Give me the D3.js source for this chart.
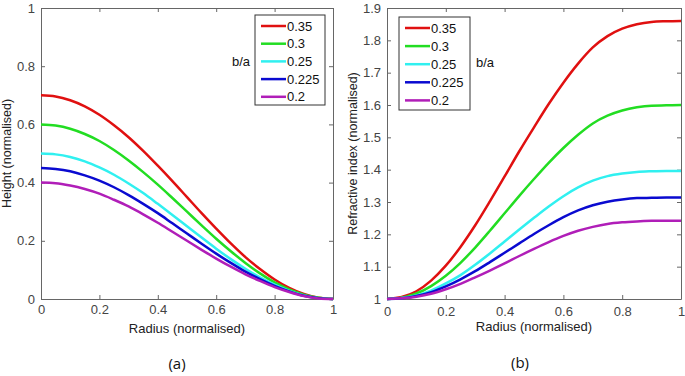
<!DOCTYPE html>
<html>
<head>
<meta charset="utf-8">
<script src="https://cdn.jsdelivr.net/npm/d3@7"></script>
<style>
  body { margin: 0; background: #fff; }
  svg { display: block; font-family: "Liberation Sans", Arial, sans-serif; }
</style>
</head>
<body>
<div id="chart"></div>
<script>
// x values (normalised radius)
const radius = [0, 0.05, 0.1, 0.15, 0.2, 0.25, 0.3, 0.35, 0.4, 0.45, 0.5,
    0.55, 0.6, 0.65, 0.7, 0.75, 0.8, 0.85, 0.9, 0.95, 1.0];

// legend labels (b/a)
const ratios = ["0.35", "0.3", "0.25", "0.225", "0.2"];
const colors = ["#e01010", "#22dd22", "#30f0f0", "#0a0ad0", "#b01eb8"];

// (a) height values
const height035 = [0.700, 0.696, 0.683, 0.662, 0.633, 0.597, 0.556, 0.509, 0.458, 0.405, 0.350,
    0.295, 0.242, 0.191, 0.144, 0.103, 0.067, 0.038, 0.017, 0.004, 0];
const height030 = [0.600, 0.596, 0.585, 0.567, 0.543, 0.512, 0.476, 0.436, 0.393, 0.347, 0.300,
    0.253, 0.207, 0.164, 0.124, 0.088, 0.057, 0.033, 0.015, 0.004, 0];
const height025 = [0.500, 0.497, 0.488, 0.473, 0.452, 0.427, 0.397, 0.364, 0.327, 0.289, 0.250,
    0.211, 0.173, 0.137, 0.104, 0.074, 0.049, 0.028, 0.012, 0.003, 0];
const height0225 = [0.450, 0.447, 0.439, 0.425, 0.407, 0.384, 0.357, 0.327, 0.295, 0.260, 0.225,
    0.190, 0.156, 0.124, 0.094, 0.068, 0.045, 0.026, 0.011, 0.003, 0];
const height020 = [0.400, 0.398, 0.390, 0.378, 0.362, 0.341, 0.318, 0.291, 0.262, 0.231, 0.200,
    0.169, 0.139, 0.111, 0.085, 0.062, 0.041, 0.024, 0.010, 0.002, 0];

// (b) refractive index values
const index035 = [1.000, 1.006, 1.024, 1.057, 1.103, 1.161, 1.228, 1.302, 1.379, 1.457, 1.531,
    1.603, 1.669, 1.728, 1.778, 1.813, 1.836, 1.850, 1.857, 1.859, 1.860];
const index030 = [1.000, 1.004, 1.017, 1.040, 1.072, 1.112, 1.159, 1.211, 1.265, 1.319, 1.371,
    1.421, 1.467, 1.508, 1.543, 1.567, 1.583, 1.593, 1.598, 1.599, 1.600];
const index025 = [1.000, 1.003, 1.011, 1.026, 1.048, 1.074, 1.106, 1.141, 1.178, 1.215, 1.251,
    1.286, 1.318, 1.345, 1.366, 1.380, 1.388, 1.393, 1.395, 1.396, 1.396];
const index0225 = [1.000, 1.002, 1.009, 1.021, 1.039, 1.061, 1.086, 1.114, 1.143, 1.172, 1.201,
    1.228, 1.253, 1.274, 1.290, 1.301, 1.308, 1.312, 1.313, 1.314, 1.314];
const index020 = [1.000, 1.002, 1.007, 1.016, 1.030, 1.047, 1.067, 1.088, 1.110, 1.133, 1.155,
    1.176, 1.195, 1.211, 1.223, 1.232, 1.237, 1.240, 1.242, 1.242, 1.242];

// tick values
const xTicks = [0, 0.2, 0.4, 0.6, 0.8, 1];
const heightTicks = [0, 0.2, 0.4, 0.6, 0.8, 1];
const indexTicks = [1, 1.1, 1.2, 1.3, 1.4, 1.5, 1.6, 1.7, 1.8, 1.9];

const svg = d3.select("#chart")
    .append("svg")
    .attr("width", 685)
    .attr("height", 376);

// draw one MATLAB style panel
function drawPanel(opt) {
    const x = d3.scaleLinear().domain([0, 1]).range([opt.left, opt.right]);
    const y = d3.scaleLinear().domain(opt.yDomain).range([opt.bottom, opt.top]);

    const g = svg.append("g");

    // box with inward ticks
    const fmt = d => d3.format("~g")(d);
    g.append("g")
        .attr("transform", `translate(0,${opt.bottom})`)
        .call(d3.axisBottom(x).tickValues(xTicks).tickSize(-4).tickSizeOuter(0).tickPadding(opt.xPad).tickFormat(fmt));
    g.append("g")
        .attr("transform", `translate(0,${opt.top})`)
        .call(d3.axisTop(x).tickValues(xTicks).tickSize(-4).tickSizeOuter(0).tickFormat(""));
    g.append("g")
        .attr("transform", `translate(${opt.left},0)`)
        .call(d3.axisLeft(y).tickValues(opt.yTicks).tickSize(-4).tickSizeOuter(0).tickPadding(6).tickFormat(fmt));
    g.append("g")
        .attr("transform", `translate(${opt.right},0)`)
        .call(d3.axisRight(y).tickValues(opt.yTicks).tickSize(-4).tickSizeOuter(0).tickFormat(""));

    g.selectAll(".domain, .tick line").attr("stroke", "#666").attr("stroke-width", 1);
    g.selectAll(".tick text").attr("fill", "#444").attr("font-size", 13)
        .attr("font-family", "Liberation Sans, Arial, sans-serif");

    // curves
    const line = d3.line()
        .x((d, i) => x(radius[i]))
        .y(d => y(d))
        .curve(d3.curveMonotoneX);

    g.selectAll(".curve")
        .data(opt.series)
        .enter().append("path")
        .attr("d", d => line(d))
        .attr("fill", "none")
        .attr("stroke", (d, i) => colors[i])
        .attr("stroke-width", 2.5);

    // axis labels
    g.append("text")
        .attr("x", (opt.left + opt.right) / 2)
        .attr("y", opt.xLabelY)
        .attr("text-anchor", "middle")
        .attr("font-size", 13)
        .attr("fill", "#222")
        .text("Radius (normalised)");

    g.append("text")
        .attr("transform", `translate(${opt.yLabelX},${(opt.top + opt.bottom) / 2}) rotate(-90)`)
        .attr("text-anchor", "middle")
        .attr("font-size", 12.5)
        .attr("fill", "#222")
        .text(opt.yLabel);

    // legend
    const lg = g.append("g");
    lg.append("rect")
        .attr("x", opt.legend.x).attr("y", opt.legend.y)
        .attr("width", opt.legend.w).attr("height", opt.legend.h)
        .attr("fill", "#fff").attr("stroke", "#333").attr("stroke-width", 1);

    ratios.forEach((r, i) => {
        const ry = opt.legend.y + 11 + i * opt.legend.step;
        lg.append("line")
            .attr("x1", opt.legend.x + 6).attr("x2", opt.legend.x + 31)
            .attr("y1", ry).attr("y2", ry)
            .attr("stroke", colors[i]).attr("stroke-width", 2.5);
        lg.append("text")
            .attr("x", opt.legend.x + 32).attr("y", ry)
            .attr("dominant-baseline", "central")
            .attr("font-size", 13)
            .attr("fill", "#111")
            .text(r);
    });

    g.append("text")
        .attr("x", opt.baX).attr("y", opt.baY)
        .attr("font-size", 13)
        .attr("fill", "#111")
        .text("b/a");

    // panel caption
    g.append("text")
        .attr("x", opt.capX).attr("y", opt.capY)
        .attr("text-anchor", "middle")
        .attr("font-family", "Open Sans, sans-serif")
        .attr("font-size", 15)
        .attr("fill", "#111")
        .text(opt.caption);
}

drawPanel({
    left: 41, right: 333, top: 8, bottom: 299,
    yDomain: [0, 1], yTicks: heightTicks, xPad: 6,
    series: [height035, height030, height025, height0225, height020],
    yLabel: "Height (normalised)", yLabelX: 11, xLabelY: 333,
    legend: { x: 255, y: 15, w: 70, h: 90, step: 17.7 },
    baX: 232, baY: 66,
    caption: "(a)", capX: 177, capY: 369
});

drawPanel({
    left: 387, right: 681, top: 8, bottom: 299,
    yDomain: [1, 1.9], yTicks: indexTicks, xPad: 8,
    series: [index035, index030, index025, index0225, index020],
    yLabel: "Refractive index (normalised)", yLabelX: 357, xLabelY: 331,
    legend: { x: 399, y: 17, w: 71, h: 93, step: 18.1 },
    baX: 476, baY: 67,
    caption: "(b)", capX: 520, capY: 368
});
</script>
</body>
</html>
